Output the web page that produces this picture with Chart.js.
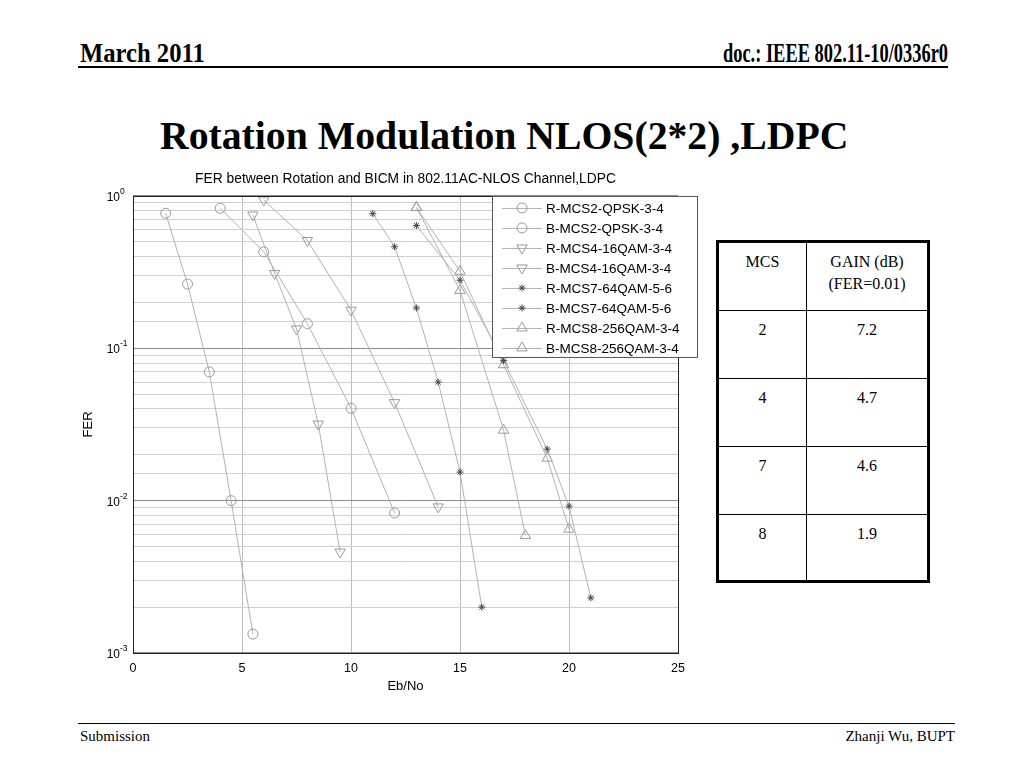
<!DOCTYPE html>
<html>
<head>
<meta charset="utf-8">
<script src="https://cdn.jsdelivr.net/npm/chart.js@4/dist/chart.umd.min.js"></script>
<style>
  body { margin: 0; width: 1024px; height: 768px; background: #fff; position: relative; overflow: hidden; }
  .serif { font-family: "Liberation Serif", "Times New Roman", serif; position: absolute; white-space: nowrap; line-height: 1; }
  .rule { position: absolute; background: #000; }
  #plot { position: absolute; left: 60px; top: 165px; width: 640px; height: 535px; }
  #gain { position: absolute; left: 716px; top: 240px; width: 214px; height: 340px; border-collapse: collapse;
          border: 3px solid #000; font-family: "Liberation Serif", serif; font-size: 16px; }
  #gain td { border: 1px solid #000; text-align: center; vertical-align: top; padding: 8px 2px 0; line-height: 22px; }
</style>
</head>
<body>
<div class="serif" id="hdrLeft" style="left:80px; top:40px; font-size:27px; font-weight:bold;">March 2011</div>
<div class="serif" id="hdrRight" style="right:76px; top:40px; font-size:27px; font-weight:bold;">doc.: IEEE 802.11-10/0336r0</div>
<div class="rule" style="left:78px; top:66px; width:870px; height:2px;"></div>
<div class="serif" id="slideTitle" style="left:160px; top:116px; font-size:40px; font-weight:bold;">Rotation Modulation NLOS(2*2) ,LDPC</div>

<canvas id="plot" width="640" height="535"></canvas>

<table id="gain">
  <tr style="height:69px"><td style="width:83px">MCS</td><td>GAIN (dB)<br>(FER=0.01)</td></tr>
</table>

<div class="rule" style="left:78px; top:723px; width:877px; height:1px;"></div>
<div class="serif" style="left:80px; top:729px; font-size:15px;">Submission</div>
<div class="serif" style="right:69px; top:729px; font-size:15px;">Zhanji Wu, BUPT</div>

<script>
// Eb/No (dB) and FER
const rMcs2Eb = [1.5, 2.5, 3.5, 4.5, 5.5];
const rMcs2Fer = [0.77, 0.264, 0.07, 0.01, 0.00133];
const bMcs2Eb = [4, 6, 8, 10, 12];
const bMcs2Fer = [0.83, 0.43, 0.145, 0.0404, 0.0083];
const rMcs4Eb = [5.5, 6.5, 7.5, 8.5, 9.5];
const rMcs4Fer = [0.75, 0.31, 0.134, 0.0318, 0.0046];
const bMcs4Eb = [6, 8, 10, 12, 14];
const bMcs4Fer = [0.94, 0.51, 0.178, 0.044, 0.0091];
const rMcs7Eb = [11, 12, 13, 14, 15, 16];
const rMcs7Fer = [0.765, 0.464, 0.184, 0.06, 0.0154, 0.002];
const bMcs7Eb = [13, 15, 17, 19, 20, 21];
const bMcs7Fer = [0.64, 0.28, 0.083, 0.0218, 0.0092, 0.0023];
const rMcs8Eb = [13, 15, 17, 18];
const rMcs8Fer = [0.84, 0.24, 0.029, 0.0059];
const bMcs8Eb = [13, 15, 17, 19, 20];
const bMcs8Fer = [0.84, 0.32, 0.078, 0.019, 0.0065];

// gain table
const mcsList = ["2", "4", "7", "8"];
const gainList = ["7.2", "4.7", "4.6", "1.9"];

const lineGray = "#b2b2b2";
const markGray = "#9a9a9a";
const starDark = "#444";
const sans = '"Liberation Sans", Arial, sans-serif';

function pts(xs, ys) {
  return xs.map((x, i) => ({ x: x, y: ys[i] }));
}

function series(label, xs, ys, style, rot, col, r) {
  return {
    label: label,
    data: pts(xs, ys),
    borderColor: lineGray,
    borderWidth: 1,
    pointStyle: style,
    rotation: rot,
    pointRadius: r,
    pointBorderColor: col,
    pointBackgroundColor: "rgba(0,0,0,0)",
    pointBorderWidth: 1,
    tension: 0
  };
}

const datasets = [
  series("R-MCS2-QPSK-3-4", rMcs2Eb, rMcs2Fer, "circle", 0, markGray, 5),
  series("B-MCS2-QPSK-3-4", bMcs2Eb, bMcs2Fer, "circle", 0, markGray, 5),
  series("R-MCS4-16QAM-3-4", rMcs4Eb, rMcs4Fer, "triangle", 180, markGray, 6),
  series("B-MCS4-16QAM-3-4", bMcs4Eb, bMcs4Fer, "triangle", 180, markGray, 6),
  series("R-MCS7-64QAM-5-6", rMcs7Eb, rMcs7Fer, "star", 0, starDark, 3.5),
  series("B-MCS7-64QAM-5-6", bMcs7Eb, bMcs7Fer, "star", 0, starDark, 3.5),
  series("R-MCS8-256QAM-3-4", rMcs8Eb, rMcs8Fer, "triangle", 0, markGray, 6),
  series("B-MCS8-256QAM-3-4", bMcs8Eb, bMcs8Fer, "triangle", 0, markGray, 6)
];

function drawMarker(ctx, ds, x, y) {
  const r = ds.pointRadius;
  ctx.strokeStyle = ds.pointBorderColor;
  ctx.lineWidth = 1;
  ctx.beginPath();
  if (ds.pointStyle === "circle") {
    ctx.arc(x, y, r, 0, Math.PI * 2);
  } else if (ds.pointStyle === "triangle") {
    const s = ds.rotation === 180 ? -1 : 1;
    ctx.moveTo(x, y - s * r);
    ctx.lineTo(x + r * 0.87, y + s * r * 0.5);
    ctx.lineTo(x - r * 0.87, y + s * r * 0.5);
    ctx.closePath();
  } else {
    for (let k = 0; k < 4; k++) {
      const a = k * Math.PI / 4;
      ctx.moveTo(x - r * Math.cos(a), y - r * Math.sin(a));
      ctx.lineTo(x + r * Math.cos(a), y + r * Math.sin(a));
    }
  }
  ctx.stroke();
}

const frameAndLegend = {
  id: "frameAndLegend",
  afterDraw(chart) {
    const { ctx, chartArea: a, scales } = chart;
    ctx.save();
    ctx.strokeStyle = "#222";
    ctx.lineWidth = 1;
    ctx.strokeRect(Math.round(a.left) + 0.5, Math.round(a.top) + 0.5, Math.round(a.width), Math.round(a.height));

    // y tick labels as 10 with exponent
    ctx.fillStyle = "#000";
    scales.y.ticks.forEach(t => {
      const lg = Math.log10(t.value);
      const e = Math.round(lg);
      if (Math.abs(lg - e) > 1e-6) return;
      const py = scales.y.getPixelForValue(t.value);
      ctx.font = "12px " + sans;
      ctx.textAlign = "right";
      ctx.textBaseline = "alphabetic";
      ctx.fillText("10", a.left - 13, py + 5);
      ctx.font = "8.5px " + sans;
      ctx.textAlign = "left";
      ctx.fillText(String(e), a.left - 13, py - 2);
    });

    // legend box, top right, overflowing the axes like the original
    const bx = a.right - 186, by = a.top, bw = 205, bh = 161;
    ctx.fillStyle = "#fff";
    ctx.fillRect(bx, by, bw, bh);
    ctx.strokeStyle = "#555";
    ctx.strokeRect(bx + 0.5, by + 0.5, bw, bh);
    ctx.font = "13.5px " + sans;
    ctx.textAlign = "left";
    ctx.textBaseline = "middle";
    chart.data.datasets.forEach((ds, i) => {
      const y = by + 12 + i * 20;
      ctx.strokeStyle = ds.borderColor;
      ctx.beginPath();
      ctx.moveTo(bx + 10, y + 0.5);
      ctx.lineTo(bx + 50, y + 0.5);
      ctx.stroke();
      drawMarker(ctx, ds, bx + 30, y);
      ctx.fillStyle = "#000";
      ctx.fillText(ds.label, bx + 54, y + 1);
    });
    ctx.restore();
  }
};

new Chart(document.getElementById("plot"), {
  type: "line",
  data: { datasets: datasets },
  options: {
    responsive: false,
    animation: false,
    layout: { padding: { left: 18, right: 22, top: 0, bottom: 4 } },
    font: { family: sans },
    plugins: {
      legend: { display: false },
      tooltip: { enabled: false },
      title: {
        display: true,
        fullSize: false,
        text: "FER between Rotation and BICM in 802.11AC-NLOS Channel,LDPC",
        color: "#000",
        font: { size: 13.8, weight: "normal", family: sans, lineHeight: 1.2 },
        padding: { top: 6, bottom: 8.4 }
      }
    },
    scales: {
      x: {
        type: "linear",
        min: 0,
        max: 25,
        ticks: { stepSize: 5, color: "#000", padding: 8, font: { size: 12.5 } },
        grid: { color: "#bdbdbd", drawTicks: false },
        border: { display: false },
        title: { display: true, text: "Eb/No", color: "#000", font: { size: 13 }, padding: { top: 4, bottom: 2 } },
        afterFit(scale) { scale.height = 43; }
      },
      y: {
        type: "logarithmic",
        min: 0.001,
        max: 1,
        ticks: { display: false },
        grid: {
          drawTicks: false,
          color: ctx => {
            const lg = Math.log10(ctx.tick.value);
            return Math.abs(lg - Math.round(lg)) < 1e-6 ? "#8c8c8c" : "#d0d0d0";
          }
        },
        border: { display: false },
        title: { display: true, text: "FER", color: "#000", font: { size: 13 }, padding: { top: 3, bottom: 4 } },
        afterFit(scale) { scale.width = 55; }
      }
    }
  },
  plugins: [frameAndLegend]
});

// fill the gain table from the lists
const table = document.getElementById("gain");
mcsList.forEach((m, i) => {
  const tr = table.insertRow();
  tr.style.height = i === mcsList.length - 1 ? "67px" : "68px";
  tr.insertCell().textContent = m;
  tr.insertCell().textContent = gainList[i];
});

// squeeze slide text to the widths of the original
function fitWidth(id, w, origin) {
  const el = document.getElementById(id);
  el.style.transformOrigin = origin;
  el.style.transform = "scaleX(" + (w / el.offsetWidth) + ")";
}
fitWidth("hdrLeft", 125, "left");
fitWidth("hdrRight", 225, "right");
fitWidth("slideTitle", 688, "left");
</script>
</body>
</html>
